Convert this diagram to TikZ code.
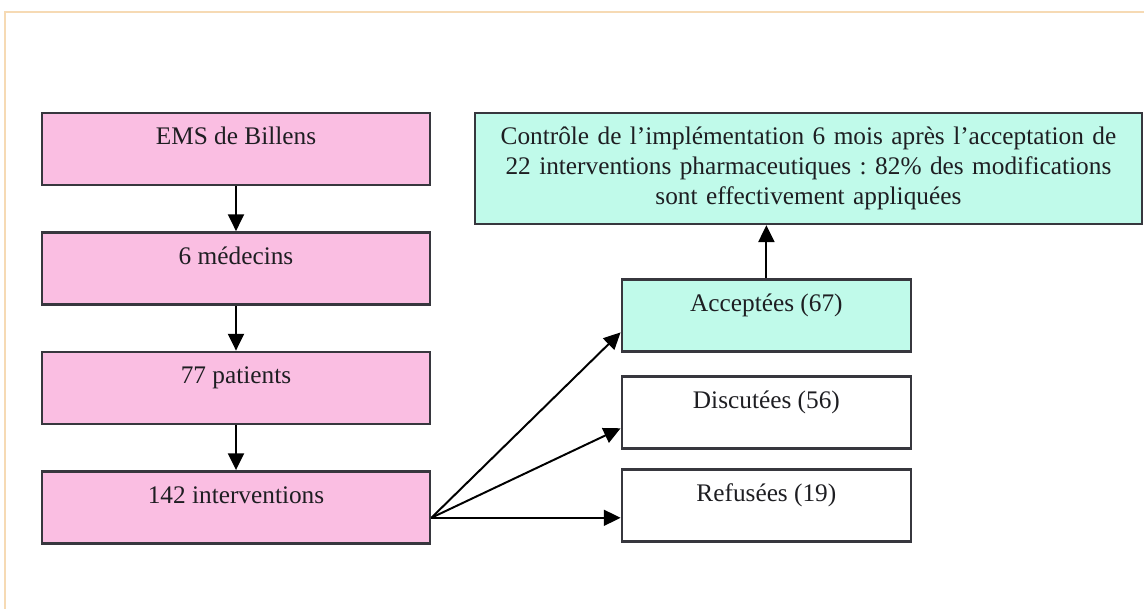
\documentclass[tikz,border=0pt]{standalone}
\usepackage{fontspec}
\setmainfont{Liberation Serif}
\usepackage{xcolor}
\usepackage{tikz}
\usetikzlibrary{arrows.meta, positioning, calc}
\definecolor{FlowPink}{RGB}{250, 190, 226}
\definecolor{FlowCyan}{RGB}{192, 250, 234}
\definecolor{BoxLine}{RGB}{55, 55, 62}
\definecolor{TextDark}{RGB}{30, 30, 34}
\definecolor{FrameOrange}{RGB}{246, 218, 180}
\frenchspacing

\begin{document}
\begin{tikzpicture}[
    font=\fontsize{18}{21}\selectfont,
    flowbox/.style={
      draw=BoxLine,
      line width=1.9pt,
      text=TextDark,
      inner sep=0pt,
      align=center,
      text height=0.8cm,
      text depth=1.0cm
    },
    leftbox/.style={flowbox, fill=FlowPink, minimum width=9.7cm},
    rightbox/.style={flowbox, minimum width=7.225cm},
    flowarrow/.style={
      draw=black,
      line width=1.4pt,
      -{Triangle[length=0.42cm, width=0.4cm]}
    },
    node distance=1.12cm
  ]
    \useasboundingbox (0,0) rectangle (28.6,-15.225);
    \draw[FrameOrange, line width=1pt] (0.125,-15.225) |- (28.6,-0.3);

    \node[leftbox] (ems) at (5.9,-3.725) {EMS de Billens};
    \node[leftbox, below=of ems] (medecins) {6 médecins};
    \node[leftbox, below=of medecins] (patients) {77 patients};
    \node[leftbox, below=of patients] (interv) {142 interventions};

    \node[rightbox, fill=FlowCyan] (acceptees) at (19.16,-7.89) {Acceptées (67)};
    \node[rightbox, fill=white, below=0.55cm of acceptees] (discutees) {Discutées (56)};
    \node[rightbox, fill=white, below=0.47cm of discutees] (refusees) {Refusées (19)};

    \node[
      draw=BoxLine,
      line width=1.9pt,
      fill=FlowCyan,
      text=TextDark,
      minimum width=16.675cm,
      minimum height=2.775cm,
      text width=16cm,
      align=center,
      inner sep=0pt
    ] (controle) at (20.21,-4.21) {Contrôle de l'implémentation 6 mois après l’acceptation de\\
      22 interventions pharmaceutiques : 82\% des modifications\\
      sont effectivement appliquées};

    \draw[flowarrow] (ems) -- (medecins);
    \draw[flowarrow] (medecins) -- (patients);
    \draw[flowarrow] (patients) -- (interv);

    \coordinate (fan) at ([yshift=-0.26cm]interv.east);
    \draw[flowarrow] (fan) -- ([yshift=-0.42cm]acceptees.west);
    \draw[flowarrow] (fan) -- ([yshift=-0.4cm]discutees.west);
    \draw[flowarrow] (fan) -- (fan -| refusees.west);

    \draw[flowarrow] (acceptees.north) -- (acceptees.north |- controle.south);
\end{tikzpicture}
\end{document}
